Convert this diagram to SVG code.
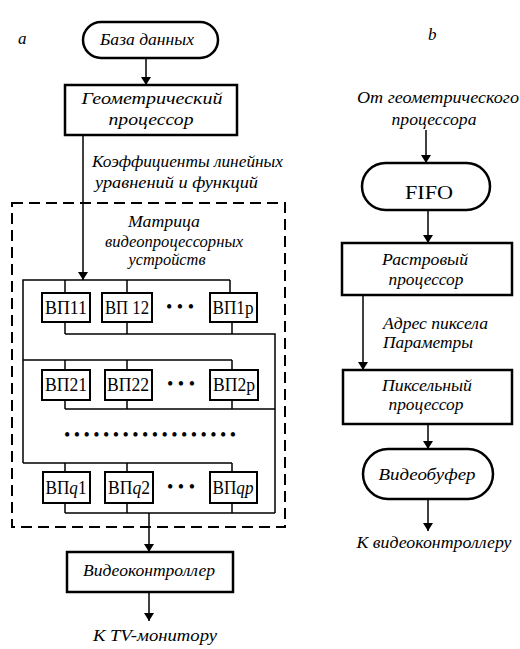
<svg xmlns="http://www.w3.org/2000/svg" width="520" height="649" viewBox="0 0 520 649">
<style>
.t{font-family:"Liberation Serif","DejaVu Serif",serif;font-style:italic;font-size:17px;fill:#000}
.u{font-family:"Liberation Serif","DejaVu Serif",serif;font-size:18px;fill:#000}
.box{fill:#fff;stroke:#000;stroke-width:2.5}
.vp{fill:#fff;stroke:#000;stroke-width:2}
.ln{fill:none;stroke:#000;stroke-width:1.5}
.dash{fill:none;stroke:#000;stroke-width:2;stroke-dasharray:11 6}
</style>
<defs>
<marker id="ar" viewBox="0 0 8 14" refX="8" refY="7" markerWidth="8" markerHeight="14" orient="auto" markerUnits="userSpaceOnUse">
<path d="M0,2 L8,7 L0,12 Z" fill="#000"/>
</marker>
</defs>
<rect width="520" height="649" fill="#fff"/>
<text class="t" x="18" y="44">a</text>
<text class="t" x="428" y="40">b</text>

<g id="connectors">
<line class="ln" x1="146" y1="58" x2="146" y2="85" marker-end="url(#ar)"/>
<line class="ln" x1="83" y1="135" x2="83" y2="280" marker-end="url(#ar)"/>
<path class="ln" d="M230,280 H23 V463"/>
<path class="ln" d="M65,280 V293 M127,280 V293 M230,280 V293"/>
<path class="ln" d="M65,322 V334 M127,322 V334 M232,322 V334 M65,334 H275 V513"/>
<path class="ln" d="M23,360 H232 M65,360 V370 M127,360 V370 M232,360 V370"/>
<path class="ln" d="M65,400 V409 M127,400 V409 M232,400 V409 M65,409 H275"/>
<path class="ln" d="M23,463 H232 M65,463 V472 M127,463 V472 M232,463 V472"/>
<path class="ln" d="M65,503 V513 M127,503 V513 M232,503 V513 M65,513 H275"/>
<line class="ln" x1="149" y1="513" x2="149" y2="552" marker-end="url(#ar)"/>
<line class="ln" x1="149" y1="592" x2="149" y2="621" marker-end="url(#ar)"/>
<line class="ln" x1="426" y1="130" x2="426" y2="163" marker-end="url(#ar)"/>
<line class="ln" x1="428" y1="210" x2="428" y2="243" marker-end="url(#ar)"/>
<line class="ln" x1="363" y1="295" x2="363" y2="370" marker-end="url(#ar)"/>
<line class="ln" x1="428" y1="424" x2="428" y2="449" marker-end="url(#ar)"/>
<line class="ln" x1="428" y1="499" x2="428" y2="531" marker-end="url(#ar)"/>
</g>

<g id="db">
<rect class="box" x="83" y="22" width="135" height="36" rx="18"/>
<text class="t" x="147" y="45" text-anchor="middle" textLength="94" lengthAdjust="spacingAndGlyphs">База данных</text>
</g>
<g id="geom">
<rect class="box" x="65" y="85" width="172" height="50"/>
<text class="t" x="152" y="104" text-anchor="middle" textLength="141" lengthAdjust="spacingAndGlyphs">Геометрический</text>
<text class="t" x="151" y="125" text-anchor="middle" textLength="85" lengthAdjust="spacingAndGlyphs">процессор</text>
</g>
<g id="coef-label">
<text class="t" x="92" y="167" textLength="191" lengthAdjust="spacingAndGlyphs">Коэффициенты линейных</text>
<text class="t" x="95" y="188" textLength="163" lengthAdjust="spacingAndGlyphs">уравнений  и функций</text>
</g>
<g id="matrix">
<rect class="dash" x="12" y="203" width="273" height="324"/>
<text class="t" x="164" y="227" text-anchor="middle" textLength="72" lengthAdjust="spacingAndGlyphs">Матрица</text>
<text class="t" x="174" y="247" text-anchor="middle" textLength="138" lengthAdjust="spacingAndGlyphs">видеопроцессорных</text>
<text class="t" x="167" y="265" text-anchor="middle" textLength="77" lengthAdjust="spacingAndGlyphs">устройств</text>
</g>
<g id="vp11"><rect class="vp" x="42" y="293" width="48" height="29"/><text class="u" x="66" y="314" text-anchor="middle" textLength="42" lengthAdjust="spacingAndGlyphs">ВП11</text></g>
<g id="vp12"><rect class="vp" x="102" y="293" width="50" height="29"/><text class="u" x="127" y="314" text-anchor="middle" textLength="44" lengthAdjust="spacingAndGlyphs">ВП 12</text></g>
<text class="u" x="180" y="313" text-anchor="middle">• • •</text>
<g id="vp1p"><rect class="vp" x="210" y="293" width="47" height="29"/><text class="u" x="233" y="314" text-anchor="middle" textLength="41" lengthAdjust="spacingAndGlyphs">ВП1p</text></g>
<g id="vp21"><rect class="vp" x="42" y="370" width="48" height="30"/><text class="u" x="66" y="391" text-anchor="middle" textLength="42" lengthAdjust="spacingAndGlyphs">ВП21</text></g>
<g id="vp22"><rect class="vp" x="105" y="370" width="47" height="30"/><text class="u" x="128" y="391" text-anchor="middle" textLength="42" lengthAdjust="spacingAndGlyphs">ВП22</text></g>
<text class="u" x="181" y="390" text-anchor="middle">• • •</text>
<g id="vp2p"><rect class="vp" x="210" y="370" width="48" height="30"/><text class="u" x="234" y="391" text-anchor="middle" textLength="42" lengthAdjust="spacingAndGlyphs">ВП2p</text></g>
<text class="u" x="150" y="441" text-anchor="middle" textLength="172" lengthAdjust="spacing">• • • • • • • • • • • • • • • • • •</text>
<g id="vpq1"><rect class="vp" x="43" y="472" width="47" height="31"/><text class="u" x="66" y="494" text-anchor="middle" textLength="41" lengthAdjust="spacingAndGlyphs">ВП<tspan font-style="italic">q</tspan>1</text></g>
<g id="vpq2"><rect class="vp" x="105" y="472" width="48" height="31"/><text class="u" x="129" y="494" text-anchor="middle" textLength="42" lengthAdjust="spacingAndGlyphs">ВП<tspan font-style="italic">q</tspan>2</text></g>
<text class="u" x="181" y="493" text-anchor="middle">• • •</text>
<g id="vpqp"><rect class="vp" x="210" y="472" width="47" height="31"/><text class="u" x="233" y="494" text-anchor="middle" textLength="41" lengthAdjust="spacingAndGlyphs">ВП<tspan font-style="italic">qp</tspan></text></g>
<g id="vc">
<rect class="box" x="67" y="552" width="166" height="40"/>
<text class="t" x="149" y="576" text-anchor="middle" textLength="132" lengthAdjust="spacingAndGlyphs">Видеоконтроллер</text>
</g>
<g id="tv"><text class="t" x="155" y="641" text-anchor="middle" textLength="124" lengthAdjust="spacingAndGlyphs">К TV-монитору</text></g>

<g id="from-geom">
<text class="t" x="438" y="103" text-anchor="middle" textLength="162" lengthAdjust="spacingAndGlyphs">От  геометрического</text>
<text class="t" x="434" y="125" text-anchor="middle" textLength="85" lengthAdjust="spacingAndGlyphs">процессора</text>
</g>
<g id="fifo">
<rect class="box" x="362" y="163" width="128" height="47" rx="23.5"/>
<text class="u" x="429" y="199" text-anchor="middle" font-size="19" textLength="48" lengthAdjust="spacingAndGlyphs">FIFO</text>
</g>
<g id="raster">
<rect class="box" x="342" y="243" width="170" height="52"/>
<text class="t" x="425" y="265" text-anchor="middle" textLength="86" lengthAdjust="spacingAndGlyphs">Растровый</text>
<text class="t" x="426" y="285" text-anchor="middle" textLength="75" lengthAdjust="spacingAndGlyphs">процессор</text>
</g>
<g id="addr-label">
<text class="t" x="383" y="329" textLength="105" lengthAdjust="spacingAndGlyphs">Адрес пиксела</text>
<text class="t" x="383" y="348" textLength="90" lengthAdjust="spacingAndGlyphs">Параметры</text>
</g>
<g id="pixel">
<rect class="box" x="343" y="370" width="169" height="54"/>
<text class="t" x="427" y="391" text-anchor="middle" textLength="90" lengthAdjust="spacingAndGlyphs">Пиксельный</text>
<text class="t" x="426" y="410" text-anchor="middle" textLength="75" lengthAdjust="spacingAndGlyphs">процессор</text>
</g>
<g id="vbuf">
<rect class="box" x="363" y="449" width="130" height="50" rx="25"/>
<text class="t" x="427" y="480" text-anchor="middle" textLength="97" lengthAdjust="spacingAndGlyphs">Видеобуфер</text>
</g>
<g id="to-vc"><text class="t" x="434" y="548" text-anchor="middle" textLength="155" lengthAdjust="spacingAndGlyphs">К  видеоконтроллеру</text></g>
</svg>
